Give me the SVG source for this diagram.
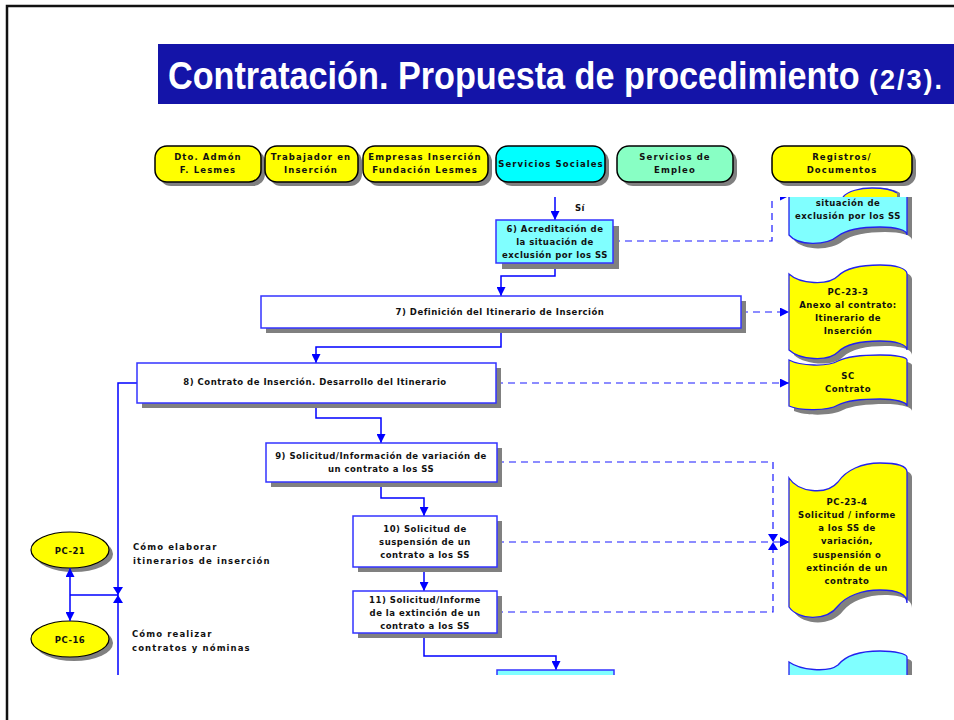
<svg xmlns="http://www.w3.org/2000/svg" width="954" height="720" viewBox="0 0 954 720">
<style>
.t{font-family:"DejaVu Sans",Verdana,sans-serif;font-weight:bold;font-size:8.5px;fill:#111;letter-spacing:0.5px}
.h{font-family:"DejaVu Sans",Verdana,sans-serif;font-weight:bold;font-size:8.5px;fill:#111;letter-spacing:1.1px}
.sh{fill:#808080}
.hd{stroke:#000;stroke-width:1.5}
.pb{stroke:#3333ff;stroke-width:1.5}
.doc{stroke:#2222ee;stroke-width:1.3}
.cn{fill:none;stroke:#0000ff;stroke-width:1.5}
.ds{fill:none;stroke:#1a1aff;stroke-width:1.2;stroke-dasharray:7,5}
.ah{fill:#0000ff}
</style>
<defs>
<marker id="arr" viewBox="0 0 10 10" refX="10" refY="5" markerWidth="9" markerHeight="9" markerUnits="userSpaceOnUse" orient="auto">
<path d="M0,0 L10,5 L0,10 Z" fill="#0000ff"/>
</marker>
<clipPath id="clip"><rect x="0" y="197" width="954" height="478"/></clipPath>
</defs>
<rect width="954" height="720" fill="#fff"/>
<rect x="7" y="6" width="1000" height="800" fill="none" stroke="#111" stroke-width="2.5"/>

<g id="title">
<rect x="158" y="44" width="800" height="60" fill="#1414a8"/>
<text transform="translate(168,89) scale(0.877,1)" x="0" y="0" font-family="'Liberation Sans',Arial,sans-serif" font-weight="bold" font-size="39" fill="#fff">Contratación. Propuesta de procedimiento</text>
<text x="869" y="89" font-family="'Liberation Sans',Arial,sans-serif" font-weight="bold" font-size="27" fill="#fff" letter-spacing="2">(2/3).</text>
</g>

<g id="lane-dto">
<rect x="159" y="150" width="106" height="36" rx="12" class="sh"/>
<rect x="155" y="146" width="106" height="36" rx="12" fill="#ffff00" class="hd"/>
<text class="h" text-anchor="middle"><tspan x="208" y="160">Dto. Admón</tspan><tspan x="208" y="173">F. Lesmes</tspan></text>
</g>
<g id="lane-trabajador">
<rect x="269" y="150" width="93" height="36" rx="12" class="sh"/>
<rect x="265" y="146" width="93" height="36" rx="12" fill="#ffff00" class="hd"/>
<text class="h" text-anchor="middle"><tspan x="311" y="160">Trabajador en</tspan><tspan x="311" y="173">Inserción</tspan></text>
</g>
<g id="lane-empresas">
<rect x="367" y="150" width="125" height="36" rx="12" class="sh"/>
<rect x="363" y="146" width="125" height="36" rx="12" fill="#ffff00" class="hd"/>
<text class="h" text-anchor="middle"><tspan x="425" y="160">Empresas Inserción</tspan><tspan x="425" y="173">Fundación Lesmes</tspan></text>
</g>
<g id="lane-ss">
<rect x="500" y="150" width="109" height="36" rx="12" class="sh"/>
<rect x="496" y="146" width="109" height="36" rx="12" fill="#00ffff" class="hd"/>
<text class="h" text-anchor="middle" x="551" y="167">Servicios Sociales</text>
</g>
<g id="lane-empleo">
<rect x="621" y="150" width="116" height="36" rx="12" class="sh"/>
<rect x="617" y="146" width="116" height="36" rx="12" fill="#88ffc4" class="hd"/>
<text class="h" text-anchor="middle"><tspan x="675" y="160">Servicios de</tspan><tspan x="675" y="173">Empleo</tspan></text>
</g>
<g id="lane-registros">
<rect x="776" y="150" width="140" height="36" rx="12" class="sh"/>
<rect x="772" y="146" width="140" height="36" rx="12" fill="#ffff00" class="hd"/>
<text class="h" text-anchor="middle"><tspan x="842" y="160">Registros/</tspan><tspan x="842" y="173">Documentos</tspan></text>
</g>

<g id="doc-sliver">
<path d="M847,197 C852,191 864,188 876,188 C888,188 896,190 900,193 L900,197 Z" class="sh"/>
<path d="M843,197 C848,191 860,188 872,188 C884,188 893,190 897,193 L897,197 Z" fill="#ffff00"/>
<path d="M843,197 C848,191 860,188 872,188 C884,188 893,190 897,193" fill="none" stroke="#2222ee" stroke-width="1.3"/>
</g>

<g clip-path="url(#clip)">
<g id="connectors">
<path class="cn" d="M555,190 V220" marker-end="url(#arr)"/>
<path class="cn" d="M555,263 V276 H501 V296" marker-end="url(#arr)"/>
<path class="cn" d="M501,328 V347 H316 V363" marker-end="url(#arr)"/>
<path class="cn" d="M316,403 V418 H381 V443" marker-end="url(#arr)"/>
<path class="cn" d="M381,482 V498 H424 V516" marker-end="url(#arr)"/>
<path class="cn" d="M424,567 V591" marker-end="url(#arr)"/>
<path class="cn" d="M424,633 V656 H556 V670" marker-end="url(#arr)"/>
<path class="cn" d="M137,383 H118 V680"/>
<path class="ds" d="M613,241 H772 V196 H789" marker-end="url(#arr)"/>
<path class="ds" d="M741,312 H789" marker-end="url(#arr)"/>
<path class="ds" d="M496,383 H789" marker-end="url(#arr)"/>
<path class="ds" d="M497,462 H773 V612 H497"/>
<path class="ds" d="M497,542 H789" marker-end="url(#arr)"/>
<path class="ah" d="M768,534 H778 L773,542 Z M768,550 H778 L773,542 Z"/>
</g>
<text class="t" x="575" y="211">Sí</text>

<g id="doc-exclusion">
<path d="M794,150 L912,150 L912,240 C912,235 901,232 885,232 C867,232 851,235 843,241 C831,251 803,251 794,240 Z" class="sh"/>
<path d="M789,150 L907,150 L907,235 C907,230 896,227 880,227 C862,227 846,230 838,236 C826,246 798,246 789,235 Z" fill="#80ffff" class="doc"/>
<text class="t" text-anchor="middle"><tspan x="848" y="206">situación de</tspan><tspan x="848" y="219">exclusión por los SS</tspan></text>
</g>

<g id="box6">
<rect x="502" y="226" width="117" height="43" class="sh"/>
<rect x="496" y="220" width="117" height="43" fill="#80ffff" class="pb"/>
<text class="t" text-anchor="middle"><tspan x="555" y="232">6) Acreditación de</tspan><tspan x="555" y="245">la situación de</tspan><tspan x="555" y="258">exclusión por los SS</tspan></text>
</g>

<g id="box7">
<rect x="266" y="301" width="480" height="32" class="sh"/>
<rect x="261" y="296" width="480" height="32" fill="#fff" class="pb"/>
<text class="t" text-anchor="middle" x="500" y="315">7) Definición del Itinerario de Inserción</text>
</g>

<g id="doc-pc233">
<path d="M794,279 C805,289 833,291 843,281 C851,273 867,270 885,270 C900,270 912,273 912,279 L912,355 C912,349 900,346 885,346 C867,346 851,349 843,357 C833,367 805,365 794,355 Z" class="sh"/>
<path d="M789,274 C800,284 828,286 838,276 C846,268 862,265 880,265 C895,265 907,268 907,274 L907,350 C907,344 895,341 880,341 C862,341 846,344 838,352 C828,362 800,360 789,350 Z" fill="#ffff00" class="doc"/>
<text class="t" text-anchor="middle"><tspan x="848" y="295">PC-23-3</tspan><tspan x="848" y="308">Anexo al contrato:</tspan><tspan x="848" y="321">Itinerario de</tspan><tspan x="848" y="334">Inserción</tspan></text>
</g>

<g id="box8">
<rect x="142" y="368" width="359" height="40" class="sh"/>
<rect x="137" y="363" width="359" height="40" fill="#fff" class="pb"/>
<text class="t" text-anchor="middle" x="315" y="385">8) Contrato de Inserción. Desarrollo del Itinerario</text>
</g>

<g id="doc-sc">
<path d="M794,365 C805,371 833,372 843,366 C851,362 867,360 885,360 C900,360 912,362 912,365 L912,411 C912,407 900,404 885,404 C867,404 851,406 843,410 C833,416 805,416 794,411 Z" class="sh"/>
<path d="M789,360 C800,366 828,367 838,361 C846,357 862,355 880,355 C895,355 907,357 907,360 L907,406 C907,402 895,399 880,399 C862,399 846,401 838,405 C828,411 800,411 789,406 Z" fill="#ffff00" class="doc"/>
<text class="t" text-anchor="middle"><tspan x="848" y="379">SC</tspan><tspan x="848" y="392">Contrato</tspan></text>
</g>

<g id="box9">
<rect x="271" y="448" width="231" height="39" class="sh"/>
<rect x="266" y="443" width="231" height="39" fill="#fff" class="pb"/>
<text class="t" text-anchor="middle"><tspan x="381" y="459">9) Solicitud/Información de variación de</tspan><tspan x="381" y="472">un contrato a los SS</tspan></text>
</g>

<g id="box10">
<rect x="358" y="521" width="144" height="51" class="sh"/>
<rect x="353" y="516" width="144" height="51" fill="#fff" class="pb"/>
<text class="t" text-anchor="middle"><tspan x="425" y="532">10) Solicitud de</tspan><tspan x="425" y="545">suspensión de un</tspan><tspan x="425" y="558">contrato a los SS</tspan></text>
</g>

<g id="box11">
<rect x="358" y="596" width="144" height="42" class="sh"/>
<rect x="353" y="591" width="144" height="42" fill="#fff" class="pb"/>
<text class="t" text-anchor="middle"><tspan x="425" y="603">11) Solicitud/Informe</tspan><tspan x="425" y="616">de la extinción de un</tspan><tspan x="425" y="629">contrato a los SS</tspan></text>
</g>

<g id="doc-pc234">
<path d="M794,483 C803,497 831,501 843,487 C851,475 867,468 885,468 C901,468 912,471 912,477 L912,608 C912,599 901,595 885,595 C867,595 851,601 843,611 C831,627 803,625 794,612 Z" class="sh"/>
<path d="M789,478 C798,492 826,496 838,482 C846,470 862,463 880,463 C896,463 907,466 907,472 L907,603 C907,594 896,590 880,590 C862,590 846,596 838,606 C826,622 798,620 789,607 Z" fill="#ffff00" class="doc"/>
<text class="t" text-anchor="middle"><tspan x="847" y="505">PC-23-4</tspan><tspan x="847" y="518">Solicitud / informe</tspan><tspan x="847" y="531">a los SS de</tspan><tspan x="847" y="544">variación,</tspan><tspan x="847" y="558">suspensión o</tspan><tspan x="847" y="571">extinción de un</tspan><tspan x="847" y="584">contrato</tspan></text>
</g>
<path class="ah" d="M780,537 L789,542 L780,547 Z"/>

<g id="box12">
<rect x="502" y="675" width="117" height="40" class="sh"/>
<rect x="497" y="670" width="117" height="40" fill="#80ffff" class="pb"/>
</g>

<g id="doc-ss">
<path d="M794,667 C805,675 833,678 843,670 C851,660 867,656 885,656 C900,656 912,659 912,662 L912,720 L794,720 Z" class="sh"/>
<path d="M789,662 C800,670 828,673 838,665 C846,655 862,651 880,651 C895,651 907,654 907,657 L907,720 L789,720 Z" fill="#80ffff" class="doc"/>
<text class="t" text-anchor="middle" x="847" y="683">SS</text>
</g>
</g>

<g id="pc21">
<ellipse cx="74" cy="554" rx="39" ry="18" class="sh"/>
<ellipse cx="70" cy="550" rx="39" ry="18" fill="#ffff00" stroke="#000" stroke-width="1.2"/>
<text class="t" text-anchor="middle" x="70" y="554" font-size="10" letter-spacing="1">PC-21</text>
</g>
<g id="pc16">
<ellipse cx="74" cy="643" rx="39" ry="18" class="sh"/>
<ellipse cx="70" cy="639" rx="39" ry="18" fill="#ffff00" stroke="#000" stroke-width="1.2"/>
<text class="t" text-anchor="middle" x="70" y="643" font-size="10" letter-spacing="1">PC-16</text>
</g>
<g id="left-connectors">
<path class="cn" d="M70,595 V568" marker-end="url(#arr)"/>
<path class="cn" d="M70,595 V621" marker-end="url(#arr)"/>
<path class="cn" d="M70,595 H118"/>
<path class="ah" d="M113,587 H123 L118,595 Z M113,603 H123 L118,595 Z"/>
</g>
<text class="h"><tspan x="133" y="550">Cómo elaborar</tspan><tspan x="133" y="564">itinerarios de inserción</tspan></text>
<text class="h"><tspan x="132" y="637">Cómo realizar</tspan><tspan x="132" y="651">contratos y nóminas</tspan></text>
</svg>
